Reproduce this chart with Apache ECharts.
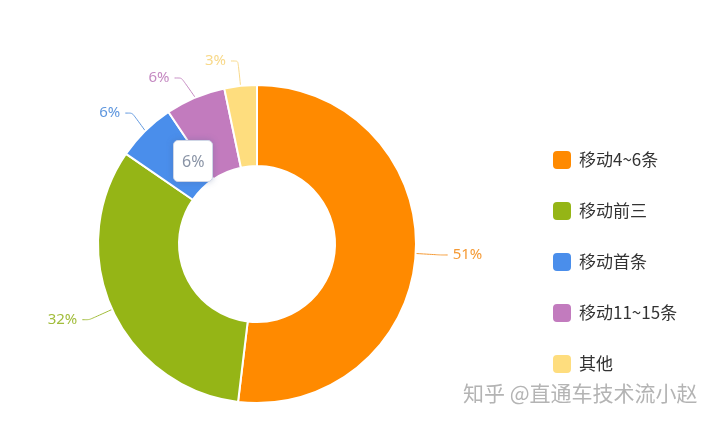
<!DOCTYPE html>
<html>
<head>
<meta charset="utf-8">
<script src="https://cdn.jsdelivr.net/npm/echarts@6/dist/echarts.min.js"></script>
<style>
  html, body { margin: 0; padding: 0; background: #fff; }
  #chart { width: 720px; height: 426px; }
</style>
</head>
<body>
<div id="chart"></div>
<script>
var names = ['移动4~6条', '移动前三', '移动首条', '移动11~15条', '其他'];
var values = [51.9, 32.7, 6.0, 6.1, 3.3];
var colors = ['#FF8A00', '#95B516', '#4A8EEB', '#C27BBE', '#FEDD7E'];
var labelColors = ['#F59A35', '#A2BD3C', '#5F97DE', '#C58AC2', '#F8D98A'];

var chart = echarts.init(document.getElementById('chart'));

var pieData = names.map(function (n, i) {
  return {
    name: n,
    value: values[i],
    itemStyle: { color: colors[i] },
    label: { color: labelColors[i] },
    labelLine: { lineStyle: { color: labelColors[i] } }
  };
});

function pct(p) { return Math.floor(p.percent) + '%'; }

chart.setOption({
  animation: false,
  tooltip: {
    trigger: 'item',
    alwaysShowContent: true,
    position: [173, 140],
    backgroundColor: '#fff',
    borderColor: '#cfd6e6',
    borderWidth: 1,
    padding: [8, 8],
    extraCssText: 'border-radius:5px;box-shadow:0 0 6px rgba(80,100,150,0.35);',
    textStyle: { color: '#8a94a6', fontSize: 16, fontFamily: 'Noto Sans' },
    formatter: pct
  },
  legend: {
    orient: 'vertical',
    left: 546,
    top: 144,
    itemWidth: 20,
    itemHeight: 20,
    itemGap: 29,
    icon: 'roundRect',
    textStyle: { fontSize: 17, color: '#333', fontFamily: 'Noto Sans CJK SC', padding: [0, 0, 0, 2] },
    data: names
  },
  graphic: [{
    type: 'text',
    left: 463,
    top: 383,
    style: {
      text: '知乎 @直通车技术流小赵',
      fontSize: 21,
      fill: '#b4b4b4',
      fontFamily: 'Noto Sans CJK SC'
    }
  }],
  series: [{
    type: 'pie',
    center: [257, 244],
    radius: [78, 159],
    startAngle: 90,
    clockwise: true,
    itemStyle: { borderColor: '#fff', borderWidth: 2 },
    emphasis: { disabled: true },
    label: {
      show: true,
      fontSize: 15,
      fontFamily: 'Noto Sans',
      formatter: pct
    },
    labelLine: { length: 25, length2: 7, smooth: 0.2 },
    data: pieData
  }]
});

chart.dispatchAction({ type: 'showTip', seriesIndex: 0, dataIndex: 2 });
</script>
</body>
</html>
